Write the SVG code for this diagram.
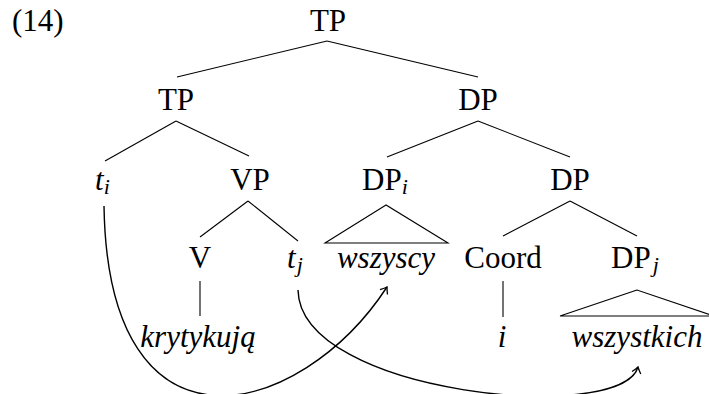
<svg xmlns="http://www.w3.org/2000/svg" width="709" height="394" viewBox="0 0 709 394">
<style>
text{font-family:'Liberation Serif','Times New Roman',serif;font-size:31px;fill:#000}
.c{text-anchor:middle}
.it{font-style:italic}
.sub{font-size:22px;font-style:italic}
.e line,.e polygon{stroke:#000;stroke-width:1.1;fill:none}
.arc{stroke:#000;stroke-width:1.4;fill:none}
</style>
<defs>
<marker id="ah" viewBox="-8 -6 10 12" markerWidth="10" markerHeight="12" refX="0" refY="0" orient="auto" markerUnits="userSpaceOnUse">
<path d="M-6,-4.5 Q-2,-1.2 0,0 Q-2,1.2 -6,4.5" fill="none" stroke="#000" stroke-width="1.3"/>
</marker>
</defs>
<rect width="709" height="394" fill="#fff"/>
<text x="12" y="31">(14)</text>
<g class="e" id="edges">
<line x1="327" y1="41" x2="177" y2="77"/>
<line x1="327" y1="41" x2="478" y2="77"/>
<line x1="176" y1="121" x2="105" y2="161"/>
<line x1="176" y1="121" x2="249" y2="156"/>
<line x1="478" y1="121" x2="387" y2="157"/>
<line x1="478" y1="121" x2="570" y2="157"/>
<line x1="248" y1="201" x2="200" y2="237"/>
<line x1="248" y1="201" x2="298" y2="241"/>
<polygon points="386,205 325,243 448,243"/>
<line x1="570" y1="201" x2="503" y2="236"/>
<line x1="570" y1="201" x2="637" y2="236"/>
<line x1="200" y1="281" x2="200" y2="316"/>
<line x1="503" y1="281" x2="503" y2="317"/>
<polygon points="637,290 560,316 714,316"/>
<path class="arc" d="M104,206 C108,470 300,420 387,287" marker-end="url(#ah)"/>
<path class="arc" d="M298,290 C300,395 622,425 638,367" marker-end="url(#ah)"/>
</g>
<g id="n-TP-root"><text class="c" x="328" y="31">TP</text></g>
<g id="n-TP"><text class="c" x="176" y="110">TP</text></g>
<g id="n-DP-top"><text class="c" x="478" y="110">DP</text></g>
<g id="n-ti"><text x="95" y="190"><tspan class="it">t</tspan><tspan class="sub" dy="4">i</tspan></text></g>
<g id="n-VP"><text class="c" x="250" y="190">VP</text></g>
<g id="n-DPi"><text x="362" y="190">DP<tspan class="sub" dy="4">i</tspan></text></g>
<g id="n-DP-mid"><text class="c" x="570" y="190">DP</text></g>
<g id="n-V"><text class="c" x="200" y="268">V</text></g>
<g id="n-tj"><text x="287" y="268"><tspan class="it">t</tspan><tspan class="sub" dx="1" dy="4">j</tspan></text></g>
<g id="n-wszyscy"><text class="c it" x="386" y="268">wszyscy</text></g>
<g id="n-Coord"><text class="c" x="503" y="268">Coord</text></g>
<g id="n-DPj"><text x="611" y="268">DP<tspan class="sub" dx="2" dy="4">j</tspan></text></g>
<g id="n-krytykuja"><text class="c it" x="198" y="347">krytykują</text></g>
<g id="n-i"><text class="c it" x="502" y="347">i</text></g>
<g id="n-wszystkich"><text class="c it" x="637" y="347">wszystkich</text></g>
</svg>
